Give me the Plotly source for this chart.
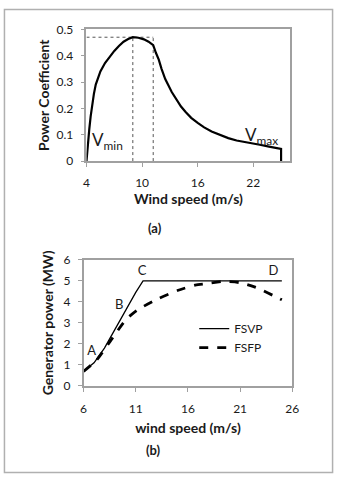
import plotly.graph_objects as go

W, H = 342, 481

# ---- Chart (a): power coefficient vs wind speed ----
cp_wind = [4.0, 4.15, 4.3, 4.45, 4.6, 4.8, 5.0, 5.5, 6.0, 6.5, 7.0, 7.5, 8.0, 8.5, 9.0,
           9.6, 10.2, 10.7, 11.2, 11.5, 11.8, 12.1, 12.5, 13.2, 13.7, 14.2, 14.7, 15.3,
           16.0, 16.7, 17.5, 18.5, 19.3, 20.2, 21.0, 21.8, 22.7, 23.7, 24.8, 25.0, 25.0]
cp_value = [0.0, 0.07, 0.12, 0.17, 0.21, 0.255, 0.29, 0.34, 0.372, 0.397, 0.418, 0.437,
            0.453, 0.463, 0.47, 0.468, 0.462, 0.453, 0.44, 0.41, 0.385, 0.35, 0.311, 0.262,
            0.232, 0.207, 0.186, 0.164, 0.145, 0.128, 0.112, 0.097, 0.087, 0.078, 0.072,
            0.068, 0.062, 0.055, 0.048, 0.046, 0.0]
cp_max = 0.47
v_min_line = 9.0
v_rated_line = 11.2
a_xticks = [4, 10, 16, 22]
a_yticks = [0, 0.1, 0.2, 0.3, 0.4, 0.5]

# ---- Chart (b): generator power vs wind speed ----
fsvp_wind = [6, 7, 8, 9, 10, 11, 11.7, 25]
fsvp_power = [0.69, 1.1, 1.8, 2.7, 3.6, 4.45, 5.0, 5.0]
fsfp_wind = [6, 7.25, 8.8, 10.05, 11.14, 13.15, 15.0, 16.7, 17.8, 19.4, 20.9, 22.5, 24.8, 25]
fsfp_power = [0.69, 1.23, 2.3, 3.15, 3.61, 4.15, 4.54, 4.8, 4.87, 4.97, 4.92, 4.69, 4.15, 4.1]
point_labels = ["A", "B", "C", "D"]
point_x = [6.78, 9.42, 11.6, 24.2]
point_y = [1.62, 3.82, 5.45, 5.42]
b_xticks = [6, 11, 16, 21, 26]
b_yticks = [0, 1, 2, 3, 4, 5, 6]

FONT = "Lato"
TXT = "#1a1a1a"
FRAME = "#a0a0a0"

def px_x(p):
    return p / W

def px_y(p):
    return 1 - p / H

fig = go.Figure()

guide = dict(color="#555555", width=1, dash="3px,3px")
# chart (a)
fig.add_trace(go.Scatter(x=[cp_wind[0], v_rated_line], y=[cp_max, cp_max], mode="lines",
                         line=guide, xaxis="x", yaxis="y", showlegend=False, hoverinfo="skip"))
fig.add_trace(go.Scatter(x=[v_min_line, v_min_line], y=[0, cp_max], mode="lines",
                         line=guide, xaxis="x", yaxis="y", showlegend=False, hoverinfo="skip"))
fig.add_trace(go.Scatter(x=[v_rated_line, v_rated_line], y=[0, cp_max], mode="lines",
                         line=guide, xaxis="x", yaxis="y", showlegend=False, hoverinfo="skip"))
fig.add_trace(go.Scatter(x=cp_wind, y=cp_value, mode="lines", line=dict(color="black", width=2.2),
                         xaxis="x", yaxis="y", showlegend=False))

# chart (b)
fig.add_trace(go.Scatter(x=fsvp_wind, y=fsvp_power, mode="lines", name="FSVP",
                         line=dict(color="black", width=1.3),
                         xaxis="x2", yaxis="y2"))
fig.add_trace(go.Scatter(x=fsfp_wind, y=fsfp_power, mode="lines", name="FSFP",
                         line=dict(color="black", width=2.8, dash="dash", shape="spline", smoothing=0.6),
                         xaxis="x2", yaxis="y2"))
fig.add_trace(go.Scatter(x=point_x, y=point_y, mode="text", text=point_labels,
                         textfont=dict(family=FONT, size=13, color=TXT),
                         xaxis="x2", yaxis="y2", showlegend=False, hoverinfo="skip"))

axis_common = dict(showgrid=False, zeroline=False, showline=True, linecolor=FRAME, linewidth=1.5,
                   mirror=True, ticks="outside", ticklen=4, tickcolor=FRAME,
                   tickfont=dict(family=FONT, size=12, color=TXT))

fig.update_layout(
    width=W, height=H, margin=dict(l=0, r=0, t=0, b=0),
    paper_bgcolor="white", plot_bgcolor="white",
    font=dict(family=FONT, color=TXT),
    xaxis=dict(domain=[px_x(86), px_x(296)], range=[4, 26], tickvals=a_xticks, anchor="y",
               ticklabelstandoff=6,
               title=dict(text="<b>Wind speed (m/s)</b>", font=dict(size=14), standoff=4),
               **axis_common),
    yaxis=dict(domain=[px_y(158), px_y(22)], range=[0, 0.5], tickvals=a_yticks, anchor="x",
               ticklabelstandoff=5,
               title=dict(text="<b>Power Coefficient</b>", font=dict(size=14), standoff=4),
               **axis_common),
    xaxis2=dict(domain=[px_x(83), px_x(298)], range=[6, 26], tickvals=b_xticks, anchor="y2",
                ticklabelstandoff=7,
                title=dict(text="<b>wind speed (m/s)</b>", font=dict(size=14), standoff=8),
                **axis_common),
    yaxis2=dict(domain=[px_y(390), px_y(260)], range=[0, 6], tickvals=b_yticks, anchor="x2",
                ticklabelstandoff=5,
                title=dict(text="<b>Generator power (MW)</b>", font=dict(size=14), standoff=7),
                **axis_common),
    legend=dict(x=px_x(197), y=px_y(316), xanchor="left", yanchor="top",
                font=dict(family=FONT, size=12, color=TXT), bgcolor="rgba(0,0,0,0)",
                tracegroupgap=0),
    annotations=[
        dict(text="V<sub>min</sub>", x=6.3, y=0.075, xref="x", yref="y", showarrow=False,
             font=dict(family=FONT, size=17, color=TXT)),
        dict(text="V<sub>max</sub>", x=22.9, y=0.095, xref="x", yref="y", showarrow=False,
             font=dict(family=FONT, size=17, color=TXT)),
        dict(text="<b>(a)</b>", x=px_x(157), y=px_y(227), xref="paper", yref="paper",
             showarrow=False, font=dict(family=FONT, size=13, color=TXT)),
        dict(text="<b>(b)</b>", x=px_x(155), y=px_y(467), xref="paper", yref="paper",
             showarrow=False, font=dict(family=FONT, size=13, color=TXT)),
    ],
    shapes=[
        dict(type="rect", xref="paper", yref="paper", x0=px_x(1.5), x1=px_x(339.5),
             y0=px_y(479.5), y1=px_y(1.5), line=dict(color="#b0b0b0", width=1.5)),
    ],
)

fig.write_html("out.html")
